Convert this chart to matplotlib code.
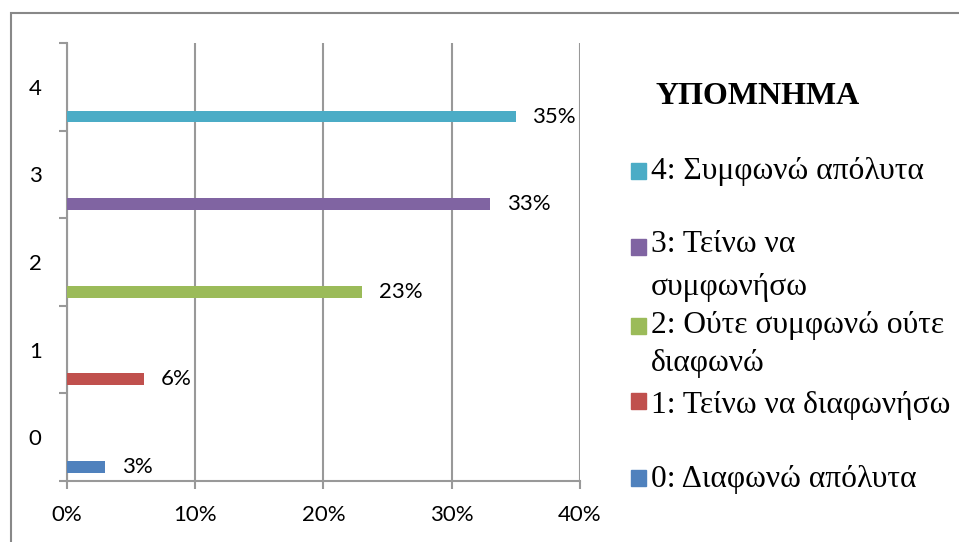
import matplotlib
matplotlib.use("Agg")
import matplotlib.pyplot as plt
from matplotlib.patches import Rectangle
import numpy as np

# data
categories = [0, 1, 2, 3, 4]
values = [0.03, 0.06, 0.23, 0.33, 0.35]
value_labels = ["3%", "6%", "23%", "33%", "35%"]
colors = ["#4F81BD", "#C0504D", "#9BBB59", "#8064A2", "#4BACC6"]
legend_title = "ΥΠΟΜΝΗΜΑ"
legend_lines = [
    ["4: Συμφωνώ απόλυτα"],
    ["3: Τείνω να", "συμφωνήσω"],
    ["2: Ούτε συμφωνώ ούτε", "διαφωνώ"],
    ["1: Τείνω να διαφωνήσω"],
    ["0: Διαφωνώ απόλυτα"],
]
legend_colors = ["#4BACC6", "#8064A2", "#9BBB59", "#C0504D", "#4F81BD"]
xticks = [0, 0.1, 0.2, 0.3, 0.4]
xtick_labels = ["0%", "10%", "20%", "30%", "40%"]

W, H = 959, 542
sans = "Lato"
serif = "Liberation Serif"
grey = "#999999"

fig = plt.figure(figsize=(W / 100, H / 100), dpi=100)
ax = fig.add_axes([66.7 / W, 1 - 481 / H, (580 - 66.7) / W, (481 - 43) / H])

# bars sit in the lower part of each category slot
bar_pos = np.array(categories) - 0.34
bars = ax.barh(bar_pos, values, height=0.135, color=colors, zorder=3)
for b, lab in zip(bars, value_labels):
    ax.annotate(lab, (b.get_width(), b.get_y() + b.get_height() / 2),
                xytext=(12, 0), textcoords="offset points",
                ha="left", va="center", fontsize=16, family=sans)

ax.set_xlim(0, 0.4)
ax.set_ylim(-0.5, 4.5)
ax.set_xticks(xticks)
ax.set_xticklabels(xtick_labels, fontsize=16, family=sans)
ax.tick_params(axis="x", length=6, width=1.5, color=grey, pad=11)

ax.set_yticks(np.arange(-0.5, 5.0, 1.0))
ax.set_yticklabels([])
ax.tick_params(axis="y", which="major", length=6, width=1.5, color=grey)
ax.set_yticks(categories, minor=True)
ax.set_yticklabels([str(c) for c in categories], minor=True, fontsize=16, family=sans)
ax.tick_params(axis="y", which="minor", length=0, pad=18)

ax.grid(axis="x", color=grey, linewidth=1.5, zorder=0)
for s in ["top", "right"]:
    ax.spines[s].set_visible(False)
for s in ["left", "bottom"]:
    ax.spines[s].set_color(grey)
    ax.spines[s].set_linewidth(1.5)

# outer chart border
fig.add_artist(Rectangle((11 / W, -0.1), 1.2, 1 - 13 / H + 0.1, transform=fig.transFigure,
                         fill=False, edgecolor="#888888", linewidth=1.5))

# legend, laid out like the Excel one
fig.text(655 / W, 1 - 97 / H, legend_title, family=serif, fontsize=23, fontweight="bold",
         ha="left", va="center")
marker_y = [171, 247, 326, 401, 478]
line_y = [[172], [245, 287], [325, 363], [405], [480]]
for lines, ys, my, c in zip(legend_lines, line_y, marker_y, legend_colors):
    fig.add_artist(Rectangle((631 / W, 1 - (my + 8) / H), 15 / W, 16 / H,
                             transform=fig.transFigure, color=c))
    for t, y in zip(lines, ys):
        fig.text(651 / W, 1 - y / H, t, family=serif, fontsize=22.7, ha="left", va="center")

fig.savefig("out.png", dpi=100)
